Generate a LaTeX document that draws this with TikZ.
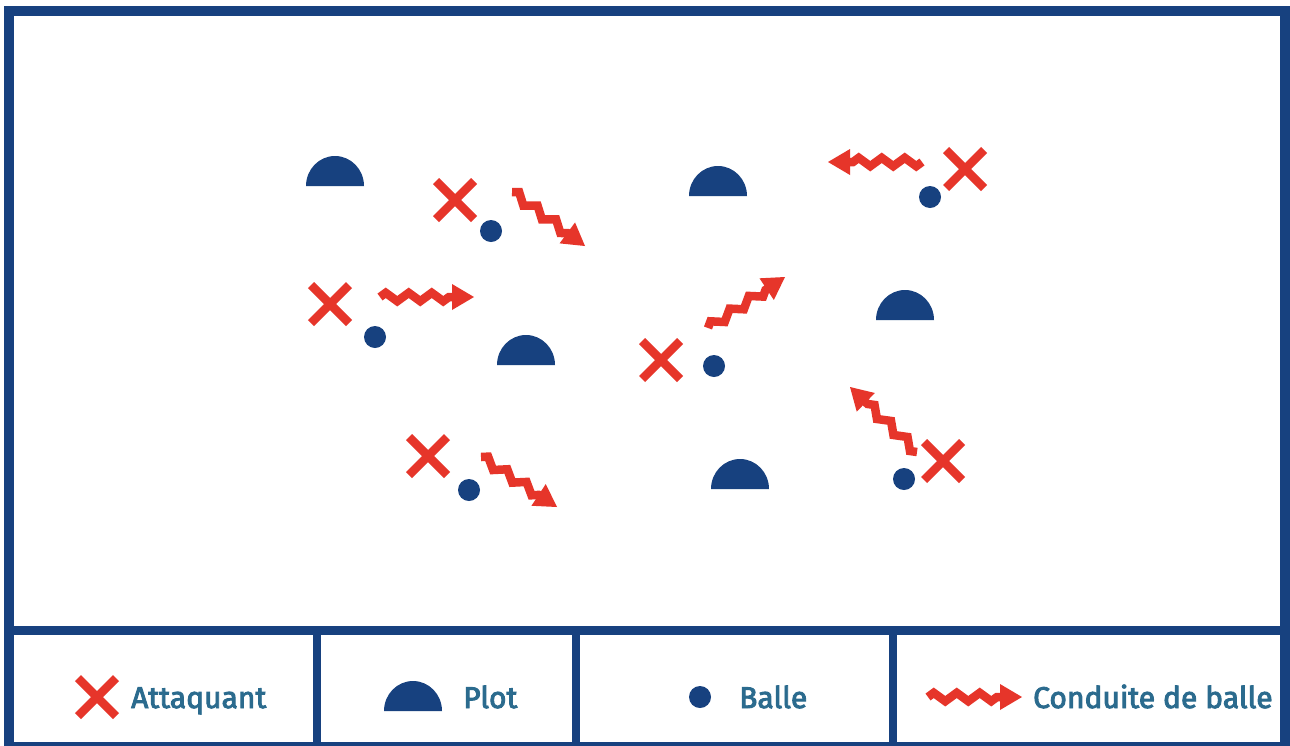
\documentclass[tikz,border=0pt]{standalone}
\usepackage{fontspec}
\setmainfont{Fira Sans}
\newfontfamily\legendfont{Fira Sans}[FakeBold=3]
\usetikzlibrary{calc,decorations.pathmorphing}
\definecolor{fieldblue}{HTML}{17417F}
\definecolor{attred}{HTML}{E6352A}
\definecolor{labelteal}{HTML}{2B6B8E}
\tikzset{
  frameline/.style={draw=fieldblue,line width=10pt},
  divline/.style={draw=fieldblue,line width=8.5pt},
  xline/.style={draw=attred,line width=8.5pt,line cap=butt},
  zzline/.style={draw=attred,line width=8.5pt,line join=miter,decorate,
    decoration={zigzag,segment length=23pt,amplitude=4.2pt}},
  legendtext/.style={anchor=base west,text=labelteal,font=\legendfont\fontsize{30}{36}\selectfont,inner sep=0pt},
}
\newcommand\attq[2]{\draw[xline] (#1-19,#2-19) -- (#1+19,#2+19) (#1-19,#2+19) -- (#1+19,#2-19);}
\newcommand\plotsym[2]{\fill[fieldblue] (#1-29,#2) arc[start angle=180,end angle=0,x radius=29pt,y radius=30pt] -- cycle;}
\newcommand\ballsym[2]{\fill[fieldblue] (#1,#2) circle[radius=11pt];}
\newcommand\conduite[4]{%
  \coordinate (cs) at (#1,#2);
  \coordinate (ct) at (#3,#4);
  \draw[zzline] (cs) -- ($(ct)!20pt!(cs)$);
  \coordinate (cb) at ($(ct)!22pt!(cs)$);
  \fill[attred] (ct) -- ($(cb)!13pt!90:(ct)$) -- ($(cb)!13pt!-90:(ct)$) -- cycle;}
\begin{document}
\begin{tikzpicture}[x=1pt,y=-1pt]
\useasboundingbox (0,0) rectangle (1290,745);
\fill[white] (0,0) rectangle (1290,745);
% frame
\draw[frameline] (8.5,11) rectangle (1285,747);
\draw[draw=fieldblue,line width=9pt] (8.5,630.5) -- (1285,630.5);
\draw[divline] (317,630) -- (317,750);
\draw[divline] (576,630) -- (576,750);
\draw[divline] (893,630) -- (893,750);
% plots
\plotsym{335}{186}
\plotsym{718}{196}
\plotsym{905}{320}
\plotsym{526}{365}
\plotsym{740}{489}
% attackers
\attq{455}{200}
\attq{330}{304}
\attq{965}{169}
\attq{661}{360}
\attq{943}{461}
\attq{428}{456}
% balls
\ballsym{491}{231}
\ballsym{375}{337}
\ballsym{930}{197}
\ballsym{714}{366}
\ballsym{904}{479}
\ballsym{469}{490}
% dribbles
\conduite{512}{192}{585}{246}
\conduite{380}{297}{474}{297}
\conduite{922}{162}{828}{162}
\conduite{708}{328}{785}{277}
\conduite{917}{452}{850}{387}
\conduite{481}{457}{557}{507}
% legend
\attq{97}{697}
\node[legendtext] (lattaquant) at (131,708) {Attaquant};
\plotsym{413}{711}
\node[legendtext] (lplot) at (463,708) {Plot};
\ballsym{700}{697}
\node[legendtext] (lballe) at (739,708) {Balle};
\conduite{928}{697}{1022}{697}
\node[legendtext] (lconduite) at (1033,708) {Conduite de balle};
\end{tikzpicture}
\end{document}
